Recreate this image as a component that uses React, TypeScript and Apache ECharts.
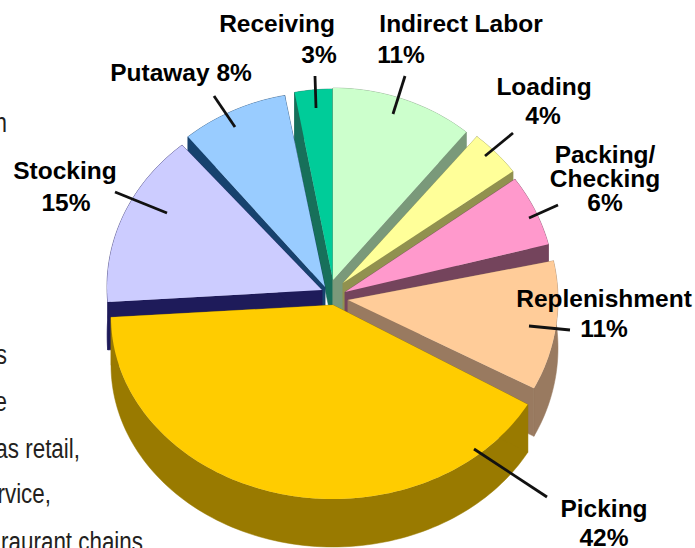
import React, { useEffect, useRef } from "react";
import * as echarts from "echarts";

const categories = ["Indirect Labor", "Loading", "Packing/ Checking", "Replenishment", "Picking", "Stocking", "Putaway", "Receiving"];
const values = [11, 4, 6, 11, 42, 15, 8, 3];
const topColors = ["#CCFFCC", "#FFFF99", "#FF99CC", "#FFCC99", "#FFCC00", "#CCCCFF", "#99CCFF", "#00CC99"];
const sideColors = ["#7A997A", "#91914F", "#74445C", "#997A60", "#997A00", "#1E1B5A", "#17426E", "#17705A"];
// painter's order of the slices, back to front
const paintOrder = [7, 0, 1, 2, 3, 6, 5, 4];

// the exploded, tilted projection of each slice
const apexX = [333, 343, 345, 348, 333, 322, 325, 333];
const apexY = [280, 283, 292, 300, 305, 290, 287, 280];
const arcDropY = [0, 0, 0, 0, 12, -3, 0, 0];
const radiusX = [209, 210, 210, 210, 222, 215, 215, 205];
const radiusY = [192, 190, 192, 190, 182, 187, 195, 191];
const turnDeg = [0, 0, 0, 2.5, 3.5, -1, 0, 0];
const DEPTH = 48;

const labelLines = [
  [{ t: "Indirect Labor", x: 461, y: 23 }, { t: "11%", x: 401, y: 54 }],
  [{ t: "Loading", x: 544, y: 86 }, { t: "4%", x: 543, y: 115 }],
  [{ t: "Packing/\nChecking\n6%", x: 605, y: 178 }],
  [{ t: "Replenishment", x: 604, y: 298 }, { t: "11%", x: 604, y: 328 }],
  [{ t: "Picking", x: 604, y: 508 }, { t: "42%", x: 604, y: 537 }],
  [{ t: "Stocking", x: 65, y: 170 }, { t: "15%", x: 66, y: 202 }],
  [{ t: "Putaway 8%", x: 181, y: 72 }],
  [{ t: "Receiving", x: 277, y: 23 }, { t: "3%", x: 319, y: 54 }],
];
const leaders = [
  [405, 76, 393, 114],
  [513, 133, 485, 156],
  [558, 205, 529, 218],
  [570, 330, 529, 326],
  [547, 497, 474, 449],
  [115, 192, 167, 213],
  [214, 96, 235, 127],
  [315, 76, 316, 108],
];
const clippedBodyText = [
  { t: "n", x: 7, y: 136 },
  { t: "s", x: 7, y: 368 },
  { t: "e", x: 7, y: 415 },
  { t: "as retail,", x: 80, y: 462 },
  { t: "rvice,", x: 51, y: 507 },
  { t: "raurant chains", x: 143, y: 555 },
];

const total = values.reduce((a, b) => a + b, 0);
const starts = values.map((_, i) => values.slice(0, i).reduce((a, b) => a + b, 0));

function arcPoints(i: number) {
  const a0 = (starts[i] / total) * 360 + turnDeg[i];
  const a1 = ((starts[i] + values[i]) / total) * 360 + turnDeg[i];
  const n = Math.max(4, Math.ceil((a1 - a0) / 1.5));
  const pts: number[][] = [];
  for (let k = 0; k <= n; k++) {
    const t = ((a0 + ((a1 - a0) * k) / n) * Math.PI) / 180;
    pts.push([apexX[i] + radiusX[i] * Math.sin(t), apexY[i] + arcDropY[i] - radiusY[i] * Math.cos(t)]);
  }
  return pts;
}

function renderSlice(_: any, api: any) {
  const i = api.value(0);
  const arc = arcPoints(i);
  const apex = [apexX[i], apexY[i]];
  const down = (p: number[]) => [p[0], p[1] + DEPTH];
  const first = arc[0];
  const last = arc[arc.length - 1];
  const side = { fill: sideColors[i], stroke: sideColors[i], lineWidth: 0.5 };
  return {
    type: "group",
    children: [
      { type: "polygon", shape: { points: [...arc, ...arc.map(down).reverse()] }, style: side },
      { type: "polygon", shape: { points: [apex, first, down(first), down(apex)] }, style: side },
      { type: "polygon", shape: { points: [apex, last, down(last), down(apex)] }, style: side },
      { type: "polygon", shape: { points: [apex, ...arc] }, style: { fill: topColors[i] } },
    ],
  };
}

function renderNote(_: any, api: any) {
  const i = api.value(0);
  const [x1, y1, x2, y2] = leaders[i];
  return {
    type: "group",
    children: [
      { type: "line", shape: { x1, y1, x2, y2 }, style: { stroke: "#111111", lineWidth: 2.8 } },
      ...labelLines[i].map((l) => ({
        type: "text",
        x: l.x,
        y: l.y,
        style: {
          text: l.t,
          fill: "#000000",
          font: 'bold 24.5px "Liberation Sans", Arial, sans-serif',
          lineHeight: 24,
          textAlign: "center",
          textVerticalAlign: "middle",
        },
      })),
    ],
  };
}

export default function App() {
  const ref = useRef<HTMLDivElement>(null);
  useEffect(() => {
    const chart = echarts.init(ref.current!, null, { renderer: "svg" });
    chart.setOption({
      animation: false,
      backgroundColor: "#ffffff",
      graphic: clippedBodyText.map((l) => ({
        type: "text",
        x: l.x,
        y: l.y,
        scaleX: 0.8,
        z: 0,
        style: {
          text: l.t,
          fill: "#231F20",
          font: '28px "Liberation Sans", sans-serif',
          textAlign: "right",
          textVerticalAlign: "bottom",
        },
      })),
      series: [
        {
          type: "custom",
          coordinateSystem: "none",
          name: "Slices",
          clip: false,
          silent: true,
          z: 2,
          renderItem: renderSlice,
          data: paintOrder.map((i) => ({ name: categories[i], value: [i, values[i]] })),
        },
        {
          type: "custom",
          coordinateSystem: "none",
          name: "Labels",
          clip: false,
          silent: true,
          z: 3,
          renderItem: renderNote,
          data: paintOrder.map((i) => ({ name: categories[i], value: [i, values[i]] })),
        },
      ],
    });
    return () => chart.dispose();
  }, []);
  return <div ref={ref} style={{ position: "fixed", left: 0, top: 0, width: 695, height: 548 }} />;
}
